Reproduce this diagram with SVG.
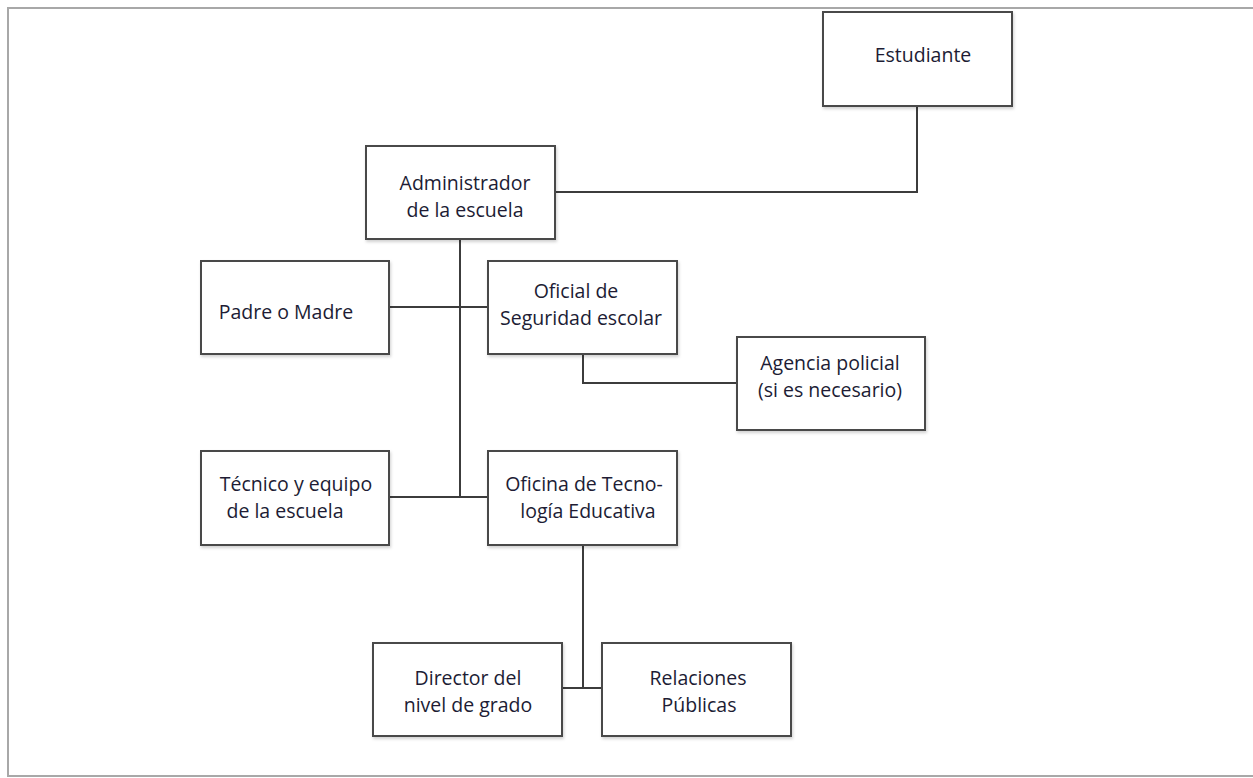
<svg xmlns="http://www.w3.org/2000/svg" width="1253" height="778" viewBox="0 0 1253 778">
<style>
.box{fill:#fff;stroke:#4a4a4a;stroke-width:2;filter:url(#sh)}
.lbl{font-family:"Open Sans","Liberation Sans",sans-serif;font-size:19.5px;fill:#201c34;text-anchor:middle}
.con{fill:none;stroke:#3c3c3c;stroke-width:2}
</style>
<defs>
<filter id="sh" x="-10%" y="-10%" width="125%" height="130%">
<feDropShadow dx="1" dy="2" stdDeviation="1.5" flood-color="#000" flood-opacity="0.18"/>
</filter>
</defs>
<rect width="1253" height="778" fill="#fff"/>
<path d="M1253,8 H8 V776 H1253" fill="none" stroke="#a8a8a8" stroke-width="2"/>
<g id="connectors">
<path class="con" d="M555,192 H917 V106"/>
<path class="con" d="M460,239 V497"/>
<path class="con" d="M389,307 H487"/>
<path class="con" d="M389,497 H487"/>
<path class="con" d="M583,354 V383 H737"/>
<path class="con" d="M583,545 V688"/>
<path class="con" d="M562,688 H602"/>
</g>
<g id="estudiante"><rect class="box" x="823" y="12" width="189" height="94"/><text class="lbl" x="923" y="62">Estudiante</text></g>
<g id="administrador"><rect class="box" x="366" y="146" width="189" height="93"/><text class="lbl" x="465" y="190">Administrador</text><text class="lbl" x="465" y="217">de la escuela</text></g>
<g id="padre"><rect class="box" x="201" y="261" width="188" height="93"/><text class="lbl" x="286" y="319">Padre o Madre</text></g>
<g id="oficial"><rect class="box" x="488" y="261" width="189" height="93"/><text class="lbl" x="576" y="298">Oficial de</text><text class="lbl" x="581" y="325">Seguridad escolar</text></g>
<g id="agencia"><rect class="box" x="737" y="337" width="188" height="93"/><text class="lbl" x="830" y="370">Agencia policial</text><text class="lbl" x="830" y="397">(si es necesario)</text></g>
<g id="tecnico"><rect class="box" x="201" y="451" width="188" height="94"/><text class="lbl" x="296" y="491">Técnico y equipo</text><text class="lbl" x="285" y="518">de la escuela</text></g>
<g id="oficina"><rect class="box" x="488" y="451" width="189" height="94"/><text class="lbl" x="584" y="491">Oficina de Tecno-</text><text class="lbl" x="588" y="518">logía Educativa</text></g>
<g id="director"><rect class="box" x="373" y="643" width="189" height="93"/><text class="lbl" x="468" y="685">Director del</text><text class="lbl" x="468" y="712">nivel de grado</text></g>
<g id="relaciones"><rect class="box" x="602" y="643" width="189" height="93"/><text class="lbl" x="698" y="685">Relaciones</text><text class="lbl" x="699" y="712">Públicas</text></g>
</svg>
